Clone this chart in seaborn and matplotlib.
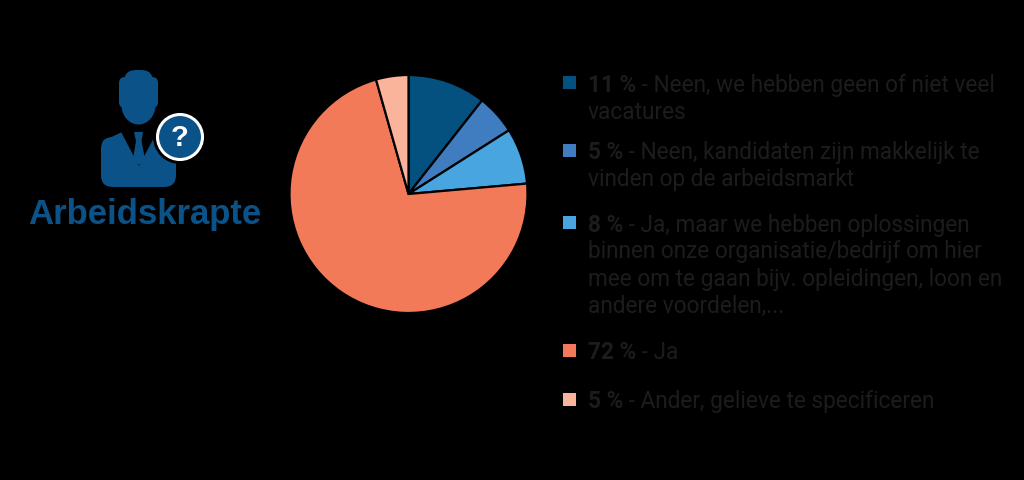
"""Pie chart of the Arbeidskrapte survey answers, with legend text and icon."""
import matplotlib

matplotlib.use("Agg")
import matplotlib.pyplot as plt
import seaborn as sns
from matplotlib.patches import Circle, Ellipse, FancyBboxPatch, Polygon, Rectangle

# Slice shares, percentages as printed in the legend
slice_shares = [10.6, 5.4, 7.6, 72.0, 4.4]
percent_labels = ["11 %", "5 %", "8 %", "72 %", "5 %"]
answer_lines = [
    [" - Neen, we hebben geen of niet veel", "vacatures"],
    [" - Neen, kandidaten zijn makkelijk te", "vinden op de arbeidsmarkt"],
    [
        " - Ja, maar we hebben oplossingen",
        "binnen onze organisatie/bedrijf om hier",
        "mee om te gaan bijv. opleidingen, loon en",
        "andere voordelen,...",
    ],
    [" - Ja"],
    [" - Ander, gelieve te specificeren"],
]
slice_colors = ["#04507F", "#3F7CC0", "#49A5E0", "#F27A58", "#FAB49C"]
title_text = "Arbeidskrapte"

# Baselines of the legend lines in pixels from the top of the image
line_baselines = [[92, 119], [159, 186], [232, 258, 286, 313], [359], [408]]
square_centers = [83, 151, 223, 351, 400]

ICON_BLUE = "#0B5288"
TEXT_COLOR = "#1C1C1C"
FONT_NAME = "Roboto"
FONT_SIZE = 16.3

sns.set_theme(style="white")
plt.rcParams["font.family"] = [FONT_NAME, "DejaVu Sans"]
palette = sns.color_palette(slice_colors)

fig = plt.figure(figsize=(10.24, 4.81), dpi=100, facecolor="black")

# Full-figure axes in pixel coordinates for the icon and the legend
canvas = fig.add_axes([0, 0, 1, 1], facecolor="black")
canvas.set_xlim(0, 1024)
canvas.set_ylim(481, 0)
canvas.axis("off")

# Pie axes: center (408.5, 195), radius 119 pixels
pie_ax = fig.add_axes([289.5 / 1024, (481 - 314) / 481, 238 / 1024, 238 / 481])
pie_ax.pie(
    slice_shares,
    colors=palette,
    startangle=90,
    counterclock=False,
    radius=1,
    wedgeprops={"edgecolor": "black", "linewidth": 1.6},
)
pie_ax.set_xlim(-1.0, 1.0)
pie_ax.set_ylim(-1.0, 1.0)

# Icon: head
canvas.add_patch(
    FancyBboxPatch(
        (131, 78), 15, 20, boxstyle="round,pad=7,rounding_size=12", color=ICON_BLUE, lw=0
    )
)
canvas.add_patch(FancyBboxPatch((125, 84), 27, 19, boxstyle="round,pad=6,rounding_size=6", color=ICON_BLUE, lw=0))
canvas.add_patch(Ellipse((138.5, 106), 34, 39, color=ICON_BLUE, lw=0))

# Icon: body and shoulders
canvas.add_patch(
    FancyBboxPatch(
        (113, 150), 51, 26, boxstyle="round,pad=12,rounding_size=12", color=ICON_BLUE, lw=0
    )
)
canvas.add_patch(
    Polygon(
        [(101, 152), (103, 142), (122, 133), (157, 133), (176, 146), (176, 152)],
        color=ICON_BLUE,
        lw=0,
    )
)

# Icon: collar opening and tie
canvas.add_patch(Polygon([(120, 131), (158, 131), (139, 167)], color="black", lw=0))
canvas.add_patch(
    Polygon(
        [(134, 133), (143, 133), (141.5, 142), (145, 160), (139, 166), (133, 160), (136, 142)],
        color=ICON_BLUE,
        lw=0,
    )
)

# Icon: question badge
canvas.add_patch(Circle((180, 138), 27, color="black", lw=0))
canvas.add_patch(Circle((180, 138), 22.5, facecolor=ICON_BLUE, edgecolor="white", lw=2.2))
canvas.text(
    179.5, 138.5, "?", color="white", fontsize=21, fontweight="bold",
    family="Liberation Sans", ha="center", va="center",
)

canvas.text(
    28, 224, title_text, color=ICON_BLUE, fontsize=25, fontweight="bold",
    family="Liberation Sans", ha="left", va="baseline",
)

# Legend: square, bold percentage, then the answer text
renderer = fig.canvas.get_renderer()
for percent, lines, baselines, center, color in zip(
    percent_labels, answer_lines, line_baselines, square_centers, palette
):
    canvas.add_patch(Rectangle((563, center - 6.5), 13, 13, color=color, lw=0))
    bold = canvas.text(
        588, baselines[0], percent, color=TEXT_COLOR, fontsize=FONT_SIZE,
        fontweight="bold", va="baseline",
    )
    # Put the regular text right after the bold part
    bold_width = bold.get_window_extent(renderer).width
    canvas.text(
        588 + bold_width, baselines[0], lines[0], color=TEXT_COLOR,
        fontsize=FONT_SIZE, va="baseline",
    )
    for line, baseline in zip(lines[1:], baselines[1:]):
        canvas.text(588, baseline, line, color=TEXT_COLOR, fontsize=FONT_SIZE, va="baseline")

fig.savefig("out.png", dpi=100, facecolor="black")
plt.close(fig)
